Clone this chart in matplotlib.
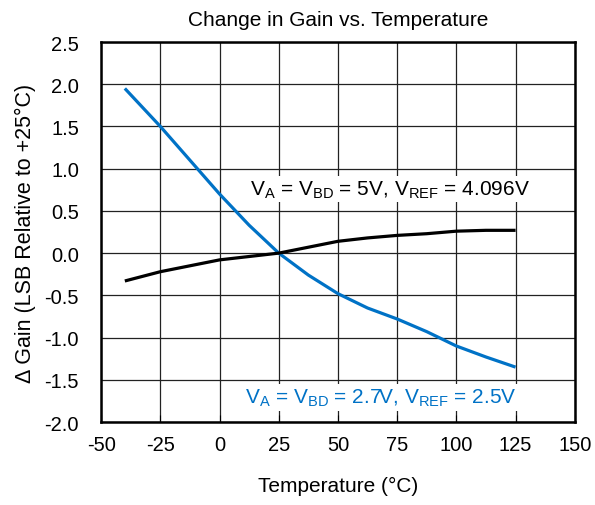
import matplotlib
matplotlib.use("Agg")
import matplotlib.pyplot as plt

plt.rcParams["font.family"] = ["Liberation Sans", "DejaVu Sans"]
plt.rcParams["mathtext.default"] = "regular"
plt.rcParams["axes.unicode_minus"] = False

# temperature sweep and gain change (LSB relative to +25 C)
temp = [-40, -25, -12.5, 0, 12.5, 25, 37.5, 50, 62.5, 75, 87.5, 100, 112.5, 125]
gain_27v = [1.95, 1.50, 1.10, 0.70, 0.33, 0.0, -0.26, -0.48, -0.65, -0.78, -0.93, -1.10, -1.23, -1.35]
gain_5v = [-0.33, -0.22, -0.15, -0.08, -0.04, 0.0, 0.07, 0.14, 0.18, 0.21, 0.23, 0.26, 0.27, 0.27]

xticks = [-50, -25, 0, 25, 50, 75, 100, 125, 150]
yticks = [-2.0, -1.5, -1.0, -0.5, 0.0, 0.5, 1.0, 1.5, 2.0, 2.5]

blue = "#0072C6"

fig = plt.figure(figsize=(5.95, 5.06), dpi=100)
ax = fig.add_axes([0.170, 0.164, 0.796, 0.751])

ax.plot(temp, gain_27v, color=blue, lw=2.3, solid_capstyle="butt", zorder=3)
ax.plot(temp, gain_5v, color="black", lw=2.3, solid_capstyle="butt", zorder=3)

ax.set_xlim(-50, 150)
ax.set_ylim(-2.0, 2.5)
ax.set_xticks(xticks)
ax.set_yticks(yticks)
ax.set_yticklabels(["%.1f" % v for v in yticks])
ax.grid(True, color="#222222", lw=0.9)
ax.set_axisbelow(True)
ax.tick_params(direction="in", length=5, width=0.8, labelsize=14.5)
ax.tick_params(axis="x", pad=9)
ax.tick_params(axis="y", length=0, pad=16)
for s in ax.spines.values():
    s.set_linewidth(1.8)
    s.set_zorder(4)

ax.text(12.9, 0.76, "V$_A$ = V$_{BD}$ = 5V, V$_{REF}$ = 4.096V", fontsize=15,
        va="center", ha="left", color="black", zorder=5,
        bbox=dict(facecolor="white", edgecolor="none", pad=2))
ax.text(10.8, -1.71, "V$_A$ = V$_{BD}$ = 2.7V, V$_{REF}$ = 2.5V", fontsize=15,
        va="center", ha="left", color=blue, zorder=5,
        bbox=dict(facecolor="white", edgecolor="none", pad=2))

ax.set_title("Change in Gain vs. Temperature", fontsize=15, pad=12)
ax.set_xlabel("Temperature (°C)", fontsize=15, labelpad=16)
ax.set_ylabel("Δ Gain (LSB Relative to +25°C)", fontsize=15.5, labelpad=6)

fig.savefig("out.png", dpi=100)
